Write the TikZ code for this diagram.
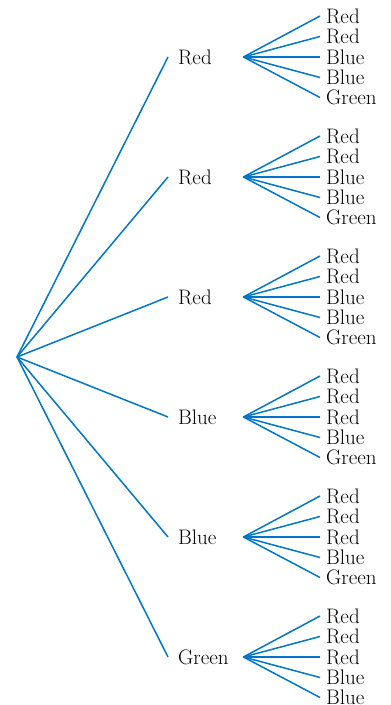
\documentclass[tikz,border=0pt]{standalone}
\definecolor{treeblue}{RGB}{0,119,200}
\tikzset{
  branch/.style={draw=treeblue, line width=1.5pt},
  midlabel/.style={anchor=west, inner xsep=10pt, inner ysep=0pt, text height=14pt, text depth=0pt, text width=55pt, align=left, font=\fontsize{21}{25}\selectfont},
  leaflabel/.style={anchor=west, inner xsep=6pt, inner ysep=0pt, text height=14pt, text depth=0pt, font=\fontsize{21}{25}\selectfont}
}
\begin{document}
\begin{tikzpicture}[x=1pt,y=-1pt]
\useasboundingbox (0,0) rectangle (391,705);
\coordinate (root) at (17,357);
\foreach \i/\y/\name/\la/\lb/\lc/\ld/\le in {
  1/57/Red/Red/Red/Blue/Blue/Green,
  2/177/Red/Red/Red/Blue/Blue/Green,
  3/297/Red/Red/Red/Blue/Blue/Green,
  4/417/Blue/Red/Red/Red/Blue/Green,
  5/537/Blue/Red/Red/Red/Blue/Green,
  6/657/Green/Red/Red/Red/Blue/Blue}{
  \node[midlabel] (m\i) at (168,\y) {\name};
  \draw[branch] (root) -- (m\i.west);
  \node[leaflabel] (m\i a) at (320,\y-41) {\la};
  \node[leaflabel] (m\i b) at (320,\y-20.5) {\lb};
  \node[leaflabel] (m\i c) at (320,\y) {\lc};
  \node[leaflabel] (m\i d) at (320,\y+20.5) {\ld};
  \node[leaflabel] (m\i e) at (320,\y+40.5) {\le};
  \foreach \k in {a,b,c,d,e}{
    \draw[branch] (m\i.east) -- (m\i\k.west);
  }
}
\end{tikzpicture}
\end{document}
